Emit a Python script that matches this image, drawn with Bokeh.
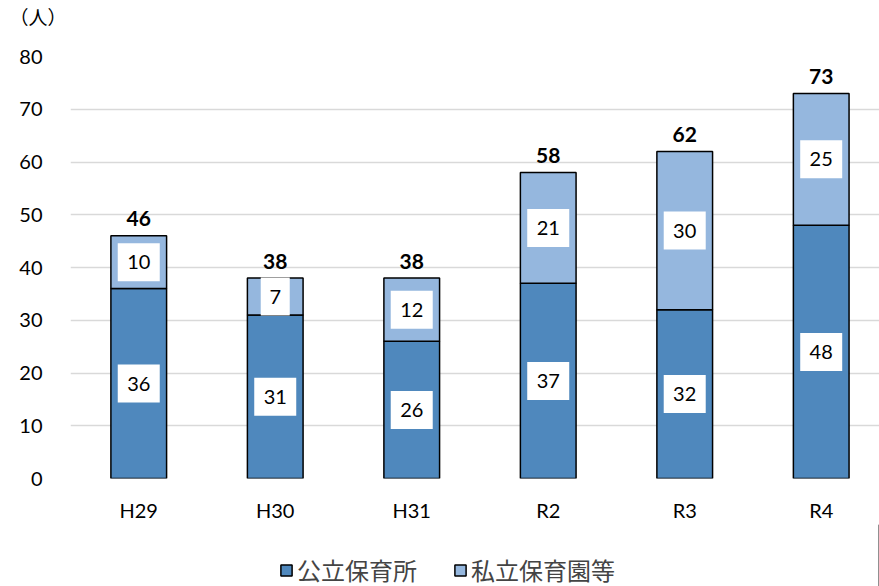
from bokeh.plotting import figure
from bokeh.layouts import column
from bokeh.models import ColumnDataSource, Range1d, FixedTicker, Legend, LegendItem
from bokeh.core.properties import value
from bokeh.embed import file_html
from bokeh.resources import INLINE

categories = ["H29", "H30", "H31", "R2", "R3", "R4"]
public = [36, 31, 26, 37, 32, 48]
private = [10, 7, 12, 21, 30, 25]
totals = [46, 38, 38, 58, 62, 73]
y_ticks = [0, 10, 20, 30, 40, 50, 60, 70, 80]
series_names = ["公立保育所", "私立保育園等"]
unit_label = "（人）"

DARK = "#4f88bd"
LIGHT = "#95b7de"
NUM_FONT = "Lato"
JP_FONT = "Noto Sans CJK JP"

xs = list(range(len(categories)))
src = ColumnDataSource(dict(
    x=xs,
    pub=public,
    priv=private,
    top=[a + b for a, b in zip(public, private)],
    pub_mid=[a / 2 for a in public],
    priv_mid=[a + b / 2 for a, b in zip(public, private)],
    pub_txt=[str(v) for v in public],
    priv_txt=[str(v) for v in private],
    pub_w=[16 + 13 * len(str(v)) for v in public],
    priv_w=[16 + 13 * len(str(v)) for v in private],
    tot=totals,
    tot_txt=[str(v) for v in totals],
))

# ---- top strip carrying the unit label as its title ----
top_fig = figure(width=879, height=36, output_backend="svg", toolbar_location=None,
                 x_range=Range1d(0, 1), y_range=Range1d(0, 1),
                 x_axis_type=None, y_axis_type=None, title=unit_label,
                 min_border_left=0, min_border_right=0, min_border_top=0, min_border_bottom=0)
top_fig.outline_line_color = None
top_fig.xgrid.grid_line_color = None
top_fig.ygrid.grid_line_color = None
top_fig.title.align = "left"
top_fig.title.offset = -61
top_fig.title.standoff = 0
top_fig.title.text_font = JP_FONT
top_fig.title.text_font_size = "19px"
top_fig.title.text_font_style = "normal"
top_fig.title.text_color = "black"

# ---- main chart ----
p = figure(frame_width=809, frame_height=422, output_backend="svg", toolbar_location=None,
           x_range=Range1d(-0.5, 5.427), y_range=Range1d(0, 80),
           min_border_left=70, min_border_right=0, min_border_top=20, min_border_bottom=45)
p.outline_line_color = None
p.background_fill_color = "white"

r1 = p.vbar(x="x", bottom=0, top="pub", width=0.408, source=src,
            fill_color=DARK, line_color="black", line_width=1.5)
r2 = p.vbar(x="x", bottom="pub", top="top", width=0.408, source=src,
            fill_color=LIGHT, line_color="black", line_width=1.5)

p.rect(x="x", y="pub_mid", width="pub_w", height=38, width_units="screen",
       height_units="screen", source=src, fill_color="white", line_color=None)
p.rect(x="x", y="priv_mid", width="priv_w", height=38, width_units="screen",
       height_units="screen", source=src, fill_color="white", line_color=None)
p.text(x="x", y="pub_mid", text="pub_txt", source=src, text_align="center",
       text_baseline="middle", text_font=value(NUM_FONT), text_font_size="20px",
       text_color="black")
p.text(x="x", y="priv_mid", text="priv_txt", source=src, text_align="center",
       text_baseline="middle", text_font=value(NUM_FONT), text_font_size="20px",
       text_color="black")
p.text(x="x", y="tot", text="tot_txt", source=src, text_align="center",
       text_baseline="middle", y_offset=-17, text_font=value(NUM_FONT),
       text_font_size="21px", text_font_style="bold", text_color="black")

p.xaxis.ticker = FixedTicker(ticks=xs)
p.xaxis.major_label_overrides = {i: c for i, c in enumerate(categories)}
p.xaxis.major_label_text_font = NUM_FONT
p.xaxis.major_label_text_font_size = "20px"
p.xaxis.major_label_text_color = "black"
p.xaxis.major_label_standoff = 13
p.xaxis.axis_line_color = None
p.xaxis.major_tick_line_color = None
p.xaxis.minor_tick_line_color = None

p.yaxis.ticker = FixedTicker(ticks=y_ticks)
p.yaxis.major_label_text_font = NUM_FONT
p.yaxis.major_label_text_font_size = "20px"
p.yaxis.major_label_text_color = "black"
p.yaxis.major_label_standoff = 22
p.yaxis.axis_line_color = None
p.yaxis.major_tick_line_color = None
p.yaxis.minor_tick_line_color = None

p.xgrid.grid_line_color = None
p.ygrid.grid_line_color = "#d9d9d9"
p.ygrid.grid_line_width = 1.5

# ---- legend strip ----
leg_fig = figure(width=879, height=63, output_backend="svg", toolbar_location=None,
                 x_range=Range1d(0, 1), y_range=Range1d(0, 1),
                 x_axis_type=None, y_axis_type=None,
                 min_border_left=0, min_border_right=0, min_border_top=0, min_border_bottom=0)
leg_fig.outline_line_color = None
leg_fig.xgrid.grid_line_color = None
leg_fig.ygrid.grid_line_color = None
offscreen = ColumnDataSource(dict(x=[10], top=[10]))
l1 = leg_fig.vbar(x="x", top="top", width=0.1, source=offscreen,
                  fill_color=DARK, line_color="black", line_width=1.5)
l2 = leg_fig.vbar(x="x", top="top", width=0.1, source=offscreen,
                  fill_color=LIGHT, line_color="black", line_width=1.5)
legend = Legend(items=[LegendItem(label=series_names[0], renderers=[l1]),
                       LegendItem(label=series_names[1], renderers=[l2])],
                orientation="horizontal", location=(209, 0),
                label_text_font=JP_FONT, label_text_font_size="24px",
                glyph_width=14, glyph_height=14, spacing=36, label_standoff=4,
                border_line_color=None, background_fill_alpha=0,
                margin=0, padding=2)
leg_fig.add_layout(legend)

layout = column(top_fig, p, leg_fig, spacing=0)
open("out.html", "w").write(file_html(layout, INLINE))
